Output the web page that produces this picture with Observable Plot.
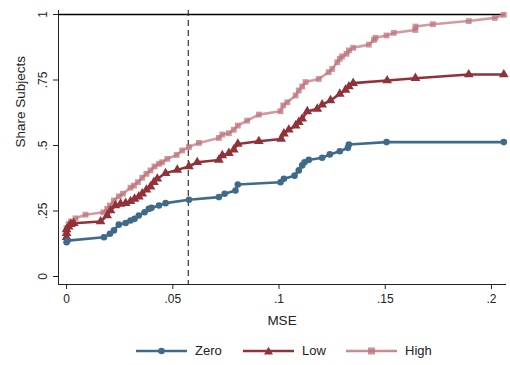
<!DOCTYPE html>
<html>
<head>
<meta charset="utf-8">
<script src="https://cdn.jsdelivr.net/npm/d3@7"></script>
<script src="https://cdn.jsdelivr.net/npm/@observablehq/plot@0.6"></script>
<style>
  body { margin: 0; background: #fff; font-family: "Liberation Sans", Arial, sans-serif; }
  #chart svg { display: block; }
  #legend { position: relative; height: 32px; font-size: 13px; color: #222; }
  #legend .sw { position: absolute; top: 12px; }
  #legend .lab { position: absolute; top: 10px; line-height: 15px; }
</style>
</head>
<body>
<div id="chart"></div>
<div id="legend"></div>
<script>
const seriesNames = ["Zero", "Low", "High"];
const seriesColors = ["#3f6b8b", "#933139", "#c98a90"];
const seriesSymbols = ["circle", "triangle", "square"];

const zeroX = [0, 0.0005, 0.0176, 0.0204, 0.0223, 0.0246, 0.0278, 0.0301, 0.032, 0.034, 0.0367, 0.0387, 0.040, 0.0435, 0.0466, 0.0576, 0.0717, 0.0744, 0.0795, 0.0806, 0.1007, 0.1023, 0.1073, 0.1093, 0.1109, 0.112, 0.114, 0.1203, 0.1239, 0.1286, 0.1324, 0.1329, 0.1506, 0.2058];
const zeroY = [0.131, 0.137, 0.15, 0.163, 0.176, 0.198, 0.204, 0.214, 0.22, 0.233, 0.245, 0.258, 0.262, 0.271, 0.28, 0.293, 0.303, 0.316, 0.328, 0.351, 0.36, 0.373, 0.385, 0.405, 0.424, 0.436, 0.445, 0.453, 0.466, 0.478, 0.491, 0.504, 0.513, 0.513];

const lowX = [0, 0, 0, 0.001, 0.002, 0.0034, 0.016, 0.0191, 0.0207, 0.023, 0.0254, 0.0278, 0.0301, 0.032, 0.034, 0.0356, 0.0376, 0.0395, 0.0411, 0.0427, 0.0466, 0.0521, 0.0576, 0.0615, 0.0717, 0.0733, 0.0764, 0.0787, 0.0806, 0.0905, 0.101, 0.1023, 0.1046, 0.1078, 0.1093, 0.1109, 0.1133, 0.118, 0.1203, 0.1242, 0.1286, 0.1313, 0.1329, 0.1349, 0.1509, 0.1642, 0.1893, 0.2058];
const lowY = [0.15, 0.165, 0.18, 0.19, 0.2, 0.203, 0.21, 0.233, 0.252, 0.271, 0.277, 0.28, 0.287, 0.296, 0.305, 0.316, 0.331, 0.343, 0.36, 0.373, 0.394, 0.407, 0.42, 0.436, 0.445, 0.462, 0.471, 0.484, 0.506, 0.516, 0.525, 0.545, 0.56, 0.576, 0.589, 0.602, 0.63, 0.64, 0.656, 0.672, 0.697, 0.712, 0.725, 0.738, 0.748, 0.757, 0.771, 0.771];

const highX = [0, 0, 0.001, 0.002, 0.0042, 0.0089, 0.0173, 0.0191, 0.0204, 0.0223, 0.0246, 0.0265, 0.0301, 0.0317, 0.0336, 0.0356, 0.0376, 0.0395, 0.0414, 0.0435, 0.045, 0.0474, 0.0518, 0.0544, 0.0576, 0.0623, 0.0717, 0.0733, 0.0764, 0.0787, 0.0806, 0.085, 0.0905, 0.1007, 0.102, 0.1039, 0.1078, 0.1093, 0.1109, 0.1125, 0.1187, 0.1234, 0.125, 0.1274, 0.1286, 0.1297, 0.1318, 0.1329, 0.1349, 0.1423, 0.1447, 0.1454, 0.1506, 0.154, 0.1642, 0.1642, 0.1724, 0.1893, 0.2016, 0.2058];
const highY = [0.17, 0.185, 0.2, 0.21, 0.222, 0.236, 0.245, 0.258, 0.271, 0.29, 0.306, 0.316, 0.339, 0.347, 0.36, 0.377, 0.392, 0.405, 0.42, 0.43, 0.436, 0.449, 0.464, 0.481, 0.494, 0.51, 0.529, 0.542, 0.547, 0.56, 0.576, 0.595, 0.618, 0.631, 0.653, 0.665, 0.691, 0.71, 0.725, 0.742, 0.754, 0.78, 0.792, 0.818, 0.831, 0.84, 0.85, 0.863, 0.873, 0.885, 0.903, 0.911, 0.92, 0.93, 0.941, 0.954, 0.963, 0.975, 0.987, 0.999];

const xTicks = [0, 0.05, 0.1, 0.15, 0.2];
const xTickLabels = ["0", ".05", ".1", ".15", ".2"];
const yTicks = [0, 0.25, 0.5, 0.75, 1];
const yTickLabels = ["0", ".25", ".5", ".75", "1"];
const cutoff = 0.0573;
const refLine = 1;

const allX = [zeroX, lowX, highX];
const allY = [zeroY, lowY, highY];
const data = [];
seriesNames.forEach((s, i) => allX[i].forEach((x, j) => data.push({series: s, x, y: allY[i][j]})));

const font = '"Liberation Sans", Arial, sans-serif';

const marks = [
  Plot.ruleY([refLine], {stroke: "#000", strokeWidth: 1.3}),
  Plot.ruleX([cutoff], {stroke: "#333", strokeWidth: 1.2, strokeDasharray: "6,4"}),
];
[2, 1, 0].forEach(i => {
  const s = seriesNames[i];
  const d = data.filter(r => r.series === s);
  marks.push(Plot.line(d, {x: "x", y: "y", stroke: seriesColors[i], strokeWidth: 2.6, strokeOpacity: i === 2 ? 0.85 : 1}));
  marks.push(Plot.dot(d, {x: "x", y: "y", symbol: () => seriesSymbols[i], fill: i === 2 ? "#bf747b" : seriesColors[i], fillOpacity: i === 2 ? 0.75 : 1, stroke: "none", r: i === 1 ? 3.6 : 3.3}));
});
marks.push(
  Plot.axisX({ticks: xTicks, tickFormat: d => xTickLabels[xTicks.indexOf(d)], tickSize: 5, tickPadding: 5, fontSize: 12, label: null, color: "#222"}),
  Plot.axisY({ticks: yTicks, tickFormat: d => yTickLabels[yTicks.indexOf(d)], tickSize: 5, tickPadding: 7, tickRotate: -90, fontSize: 12, label: null, color: "#222", textAnchor: "middle"}),
  Plot.frame({anchor: "bottom", stroke: "#222"}),
  Plot.frame({anchor: "left", stroke: "#222"}),
  Plot.text(["MSE"], {frameAnchor: "bottom", dy: 40, fontSize: 13.5, fill: "#222"}),
  Plot.text(["Share Subjects"], {frameAnchor: "left", dx: -38, rotate: -90, fontSize: 13.5, fill: "#222"})
);

const chart = Plot.plot({
  width: 510,
  height: 333,
  marginLeft: 58,
  marginRight: 5,
  marginTop: 10,
  marginBottom: 49,
  style: {fontFamily: font, background: "#fff", overflow: "visible"},
  x: {domain: [-0.0038, 0.2066]},
  y: {domain: [-0.0305, 1.0153]},
  marks
});
document.getElementById("chart").append(chart);

const legend = document.getElementById("legend");
const swLeft = [136, 243, 346];
const labLeft = [195, 302, 405];
seriesNames.forEach((s, i) => {
  const sym = seriesSymbols[i];
  let marker;
  if (sym === "circle") marker = `<circle cx="25.5" cy="6" r="3.3" fill="${seriesColors[i]}"/>`;
  else if (sym === "triangle") marker = `<path d="M25.5,1.8 L30,9.6 L21,9.6 Z" fill="${seriesColors[i]}"/>`;
  else marker = `<rect x="22" y="2.5" width="7" height="7" fill="#bf747b" fill-opacity="0.8"/>`;
  const sw = document.createElement("div");
  sw.className = "sw";
  sw.style.left = swLeft[i] + "px";
  sw.innerHTML = `<svg width="51" height="12" style="display:block"><line x1="0" y1="6" x2="51" y2="6" stroke="${seriesColors[i]}" stroke-width="2.6"/>${marker}</svg>`;
  const lab = document.createElement("div");
  lab.className = "lab";
  lab.style.left = labLeft[i] + "px";
  lab.textContent = s;
  legend.append(sw, lab);
});
</script>
</body>
</html>
